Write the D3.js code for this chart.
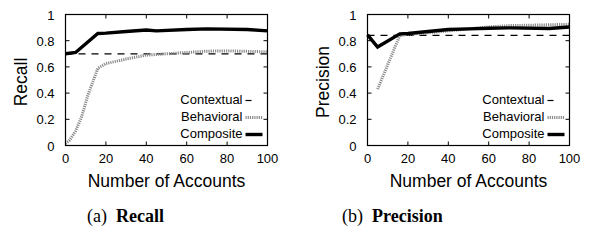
<!DOCTYPE html>
<meta charset="utf-8">
<style>
body { margin: 0; background: #fff; }
text { font-family: "Liberation Sans", Arial, sans-serif; fill: #000; }
.cap { font-family: "Liberation Serif", "Times New Roman", serif; font-size: 18px; }
</style>
<body>
<script src="https://d3js.org/d3.v7.min.js"></script>
<script>

// data
var xTicks = [0, 20, 40, 60, 80, 100];
var yTicks = [0, 0.2, 0.4, 0.6, 0.8, 1];

var recallComposite = [[0,0.70],[5,0.71],[16,0.855],[20,0.858],[30,0.87],[40,0.882],[45,0.875],[60,0.885],[70,0.89],[90,0.885],[100,0.875]];
var recallContextual = [[0,0.70],[100,0.70]];
var recallBehavioral = [[0,0.015],[2,0.04],[5,0.11],[8,0.22],[11,0.38],[16,0.59],[20,0.625],[30,0.66],[40,0.69],[50,0.70],[60,0.71],[70,0.72],[80,0.722],[100,0.715]];

var precComposite = [[0,0.845],[5,0.752],[16,0.852],[20,0.855],[30,0.87],[40,0.885],[50,0.89],[60,0.895],[70,0.898],[90,0.893],[100,0.905]];
var precContextual = [[0,0.84],[100,0.84]];
var precBehavioral = [[5,0.43],[16,0.84],[20,0.848],[30,0.86],[40,0.875],[50,0.89],[60,0.905],[70,0.915],[80,0.918],[100,0.925]];

var legendNames = ["Contextual", "Behavioral", "Composite"];

var W = 591, H = 246;
var svg = d3.select("body").append("svg")
    .attr("width", W)
    .attr("height", H);

var styles = {
  Contextual: {stroke: "#000", width: 1.2, dash: "7,6"},
  Behavioral: {stroke: "#8a8a8a", width: 3, dash: "1.2,1"},
  Composite: {stroke: "#000", width: 3.4, dash: null}
};

function panel(left, title, ctx, beh, comp, caption, captionBold, capX) {
  var plotW = 202, plotH = 131, top = 14.5;
  var x = d3.scaleLinear().domain([0, 100]).range([left, left + plotW]);
  var y = d3.scaleLinear().domain([0, 1]).range([top + plotH, top]);
  var g = svg.append("g");

  // tick labels
  g.selectAll(".xl").data(xTicks).enter().append("text")
      .attr("x", function(d) { return x(d); })
      .attr("y", top + plotH + 17)
      .attr("text-anchor", "middle")
      .style("font-size", "13px")
      .text(function(d) { return d; });
  g.selectAll(".yl").data(yTicks).enter().append("text")
      .attr("x", left - 11)
      .attr("y", function(d) { return y(d) + 5; })
      .attr("text-anchor", "end")
      .style("font-size", "13px")
      .text(function(d) { return d; });

  // inward ticks
  xTicks.forEach(function(t) {
    g.append("line").attr("x1", x(t)).attr("x2", x(t)).attr("y1", y(0)).attr("y2", y(0) - 4).attr("stroke", "#000");
    g.append("line").attr("x1", x(t)).attr("x2", x(t)).attr("y1", y(1)).attr("y2", y(1) + 4).attr("stroke", "#000");
  });
  yTicks.forEach(function(t) {
    g.append("line").attr("x1", x(0)).attr("x2", x(0) + 4).attr("y1", y(t)).attr("y2", y(t)).attr("stroke", "#000");
    g.append("line").attr("x1", x(100)).attr("x2", x(100) - 4).attr("y1", y(t)).attr("y2", y(t)).attr("stroke", "#000");
  });

  // axis titles
  g.append("text")
      .attr("x", x(50))
      .attr("y", top + plotH + 41)
      .attr("text-anchor", "middle")
      .style("font-size", "17.5px")
      .text("Number of Accounts");
  g.append("text")
      .attr("transform", "translate(" + (left - 39) + "," + (top + plotH / 2 + 2) + ") rotate(-90)")
      .attr("text-anchor", "middle")
      .style("font-size", "17.5px")
      .text(title);

  var line = d3.line()
      .x(function(d) { return x(d[0]); })
      .y(function(d) { return y(d[1]); });

  var series = [["Contextual", ctx], ["Behavioral", beh], ["Composite", comp]];
  series.forEach(function(s) {
    var st = styles[s[0]];
    g.append("path")
        .datum(s[1])
        .attr("d", line)
        .attr("fill", "none")
        .attr("stroke", st.stroke)
        .attr("stroke-width", st.width)
        .attr("stroke-dasharray", st.dash);
  });

  // legend
  legendNames.forEach(function(n, i) {
    var ly = top + 85 + i * 17;
    var st = styles[n];
    g.append("text")
        .attr("x", left + 177)
        .attr("y", ly + 4.5)
        .attr("text-anchor", "end")
        .style("font-size", "13px")
        .text(n);
    var x1 = left + 180, x2 = n == "Contextual" ? left + 186 : left + 197;
    g.append("line")
        .attr("x1", x1).attr("x2", x2)
        .attr("y1", ly + 1).attr("y2", ly + 1)
        .attr("stroke", st.stroke)
        .attr("stroke-width", st.width)
        .attr("stroke-dasharray", st.dash);
  });

  // frame
  g.append("rect")
      .attr("x", left).attr("y", top)
      .attr("width", plotW).attr("height", plotH)
      .attr("fill", "none")
      .attr("stroke", "#000")
      .attr("stroke-width", 1.2);

  // caption
  var c = svg.append("text").attr("class", "cap")
      .attr("x", capX).attr("y", 222);
  c.append("tspan").text(caption);
  c.append("tspan").attr("font-weight", "bold").attr("dx", 9).text(captionBold);
}

panel(65.5, "Recall", recallContextual, recallBehavioral, recallComposite, "(a)", "Recall", 87);
panel(367.5, "Precision", precContextual, precBehavioral, precComposite, "(b)", "Precision", 342);

</script>
</body>
